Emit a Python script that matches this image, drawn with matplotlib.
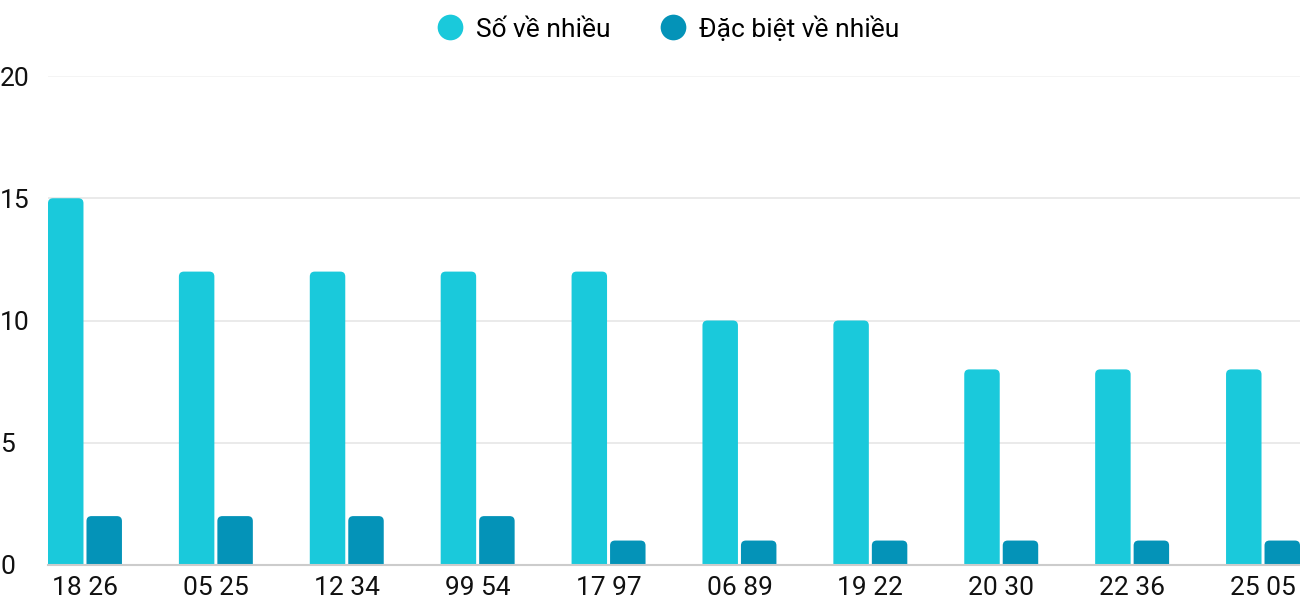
import numpy as np
import matplotlib as mpl
mpl.use('Agg')
import matplotlib.pyplot as plt
from matplotlib.patches import FancyBboxPatch
from matplotlib.lines import Line2D

plt.rcParams['font.family'] = ['Roboto', 'DejaVu Sans']

# data
labels = ["18 26", "05 25", "12 34", "99 54", "17 97", "06 89", "19 22", "20 30", "22 36", "25 05"]
so_ve_nhieu = [15, 12, 12, 12, 12, 10, 10, 8, 8, 8]
dac_biet_ve_nhieu = [2, 2, 2, 2, 1, 1, 1, 1, 1, 1]
series_names = ["Số về nhiều", "Đặc biệt về nhiều"]
yticks = [0, 5, 10, 15, 20]

CYAN = '#1ac9db'
DARK = '#0493b8'
FS = 19

fig = plt.figure(figsize=(13, 6), dpi=100)
ax = fig.add_axes([48 / 1300, 35 / 600, 1252 / 1300, 489 / 600])

bw = 0.271   # bar width in data units
gap = 0.023
half = bw + gap / 2
ax.set_xlim(-half, len(labels) - 1 + half)
ax.set_ylim(0, 20)

# pixel -> data scale for rounded corners
px_x = 1252 / (len(labels) - 1 + 2 * half)
px_y = 489 / 20
r = 5 / px_x
asp = (5 / px_y) / r

#grid
for t in yticks:
    if t == 0:
        ax.axhline(t, color='#cccccc', lw=1.5, zorder=3, clip_on=False)
    elif t == 20:
        ax.axhline(t, color='#f2f2f2', lw=1.2, zorder=0)
    else:
        ax.axhline(t, color='#e6e6e6', lw=1.2, zorder=0)


def rbar(x, v, color):
    p = FancyBboxPatch((x, -1), bw, v + 1,
                       boxstyle="round,pad=0,rounding_size={}".format(r),
                       mutation_aspect=asp, fc=color, ec='none', zorder=2)
    ax.add_patch(p)


for i in range(len(labels)):
    rbar(i - half, so_ve_nhieu[i], CYAN)
    rbar(i + gap / 2, dac_biet_ve_nhieu[i], DARK)

ax.set_xticks(np.arange(len(labels)))
ax.set_xticklabels(labels, fontsize=FS, color='#111111')
ax.set_yticks(yticks)
ax.set_yticklabels([str(t) for t in yticks], fontsize=FS, color='#111111')
for lab in ax.get_yticklabels():
    lab.set_ha('left')
ax.tick_params(axis='y', length=0, pad=34.5)
ax.tick_params(axis='x', length=0, pad=8)

for s in ax.spines.values():
    s.set_visible(False)

handles = [Line2D([], [], ls='none', marker='o', ms=18.5, mfc=CYAN, mec='none'),
           Line2D([], [], ls='none', marker='o', ms=18.5, mfc=DARK, mec='none')]
ax.legend(handles, series_names, loc='center', bbox_to_anchor=(0.4944, 1.0966),
          ncol=2, frameon=False, fontsize=FS, handletextpad=0.38,
          columnspacing=1.78, handlelength=1.2)

plt.savefig("out.png", dpi=100)
